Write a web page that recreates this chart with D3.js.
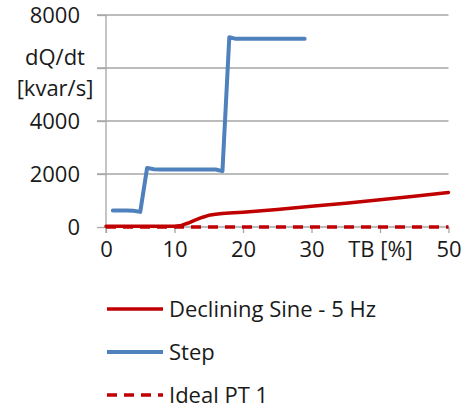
<!DOCTYPE html>
<html>
<head>
<meta charset="utf-8">
<script src="https://cdn.jsdelivr.net/npm/d3@7"></script>
<style>
    html, body { margin: 0; padding: 0; background: #fff; }
    svg text { font-family: "Open Sans", sans-serif; fill: #1a1a1a; }
</style>
</head>
<body>
<svg id="chart" width="473" height="412"></svg>
<script>
// x axis: TB [%]
const xTicks = [0, 10, 20, 30, 40, 50];
const xTickLabels = ['0', '10', '20', '30', 'TB [%]', '50'];
// y axis: dQ/dt [kvar/s]
const yTicks = [0, 2000, 4000, 6000, 8000];
const yTickLabels = ['0', '2000', '4000', '', '8000'];

const sineX = [0, 5, 10, 11, 12, 13, 14, 15, 16, 17, 18, 20, 25, 30, 35, 40, 45, 50];
const sineY = [30, 30, 30, 60, 150, 260, 360, 440, 480, 510, 530, 560, 660, 780, 900, 1030, 1160, 1300];

const stepX = [1, 2, 3, 4, 5, 6, 7, 8, 9, 10, 11, 12, 13, 14, 15, 16, 17, 18, 19, 20, 21, 22, 23, 24, 25, 26, 27, 28, 29];
const stepY = [620, 620, 620, 610, 570, 2230, 2180, 2170, 2170, 2170, 2170, 2170, 2170, 2170, 2170, 2170, 2110,
               7160, 7100, 7100, 7100, 7100, 7100, 7100, 7100, 7100, 7100, 7100, 7100];

const idealX = [0, 10, 20, 30, 40, 50];
const idealY = [0, 0, 0, 0, 0, 0];

const series = [
    { name: 'Declining Sine - 5 Hz', xs: sineX, ys: sineY, color: '#c00000', width: 3.5, dash: null },
    { name: 'Step', xs: stepX, ys: stepY, color: '#4f81bd', width: 4, dash: null },
    { name: 'Ideal PT 1', xs: idealX, ys: idealY, color: '#c00000', width: 3.5, dash: '10,7' }
];

const svg = d3.select('#chart');
const x = d3.scaleLinear().domain([0, 50]).range([106, 448.5]);
const y = d3.scaleLinear().domain([0, 8000]).range([227, 15]);

// Grid
svg.append('g')
    .selectAll('line')
    .data(yTicks.filter(d => d > 0))
    .enter().append('line')
    .attr('x1', 97).attr('x2', x(50))
    .attr('y1', d => y(d)).attr('y2', d => y(d))
    .attr('stroke', '#a6a6a6').attr('stroke-width', 1.3);

// Y axis
const yAxis = svg.append('g')
    .attr('transform', `translate(${x(0)},0)`)
    .call(d3.axisLeft(y).tickValues(yTicks).tickSize(9).tickPadding(17).tickFormat((d, i) => yTickLabels[i]));
yAxis.select('.domain').attr('stroke', '#a6a6a6').attr('stroke-width', 1.3).attr('d', `M0,${y(8000)}V${y(0) + 6}`);
yAxis.selectAll('.tick line').attr('stroke', '#a6a6a6').attr('stroke-width', 1.3);
yAxis.selectAll('.tick text').attr('font-size', '22px').attr('fill', '#1a1a1a').attr('font-family', '"Open Sans", sans-serif');

// X axis
const xAxis = svg.append('g')
    .attr('transform', `translate(0,${y(0)})`)
    .call(d3.axisBottom(x).tickValues(xTicks).tickSize(6).tickPadding(8).tickFormat((d, i) => xTickLabels[i]));
xAxis.select('.domain').attr('stroke', '#a6a6a6').attr('stroke-width', 1.3).attr('d', `M${x(0)},0H${x(50)}`);
xAxis.selectAll('.tick line').attr('stroke', '#a6a6a6').attr('stroke-width', 1.3);
xAxis.selectAll('.tick text').attr('font-size', '22px').attr('fill', '#1a1a1a').attr('font-family', '"Open Sans", sans-serif');

// Y axis title in place of the 6000 label
svg.append('text').attr('x', 55).attr('y', 65).attr('text-anchor', 'middle').attr('font-size', '22px').text('dQ/dt');
svg.append('text').attr('x', 55).attr('y', 96).attr('text-anchor', 'middle').attr('font-size', '22px').text('[kvar/s]');

// Lines
const line = d3.line().x(d => x(d[0])).y(d => y(d[1]));
series.forEach(s => {
    svg.append('path')
        .datum(s.xs.map((v, i) => [v, s.ys[i]]))
        .attr('fill', 'none')
        .attr('stroke', s.color)
        .attr('stroke-width', s.width)
        .attr('stroke-linejoin', 'round')
        .attr('stroke-linecap', s.dash ? 'butt' : 'round')
        .attr('stroke-dasharray', s.dash)
        .attr('d', line);
});

// Legend
const legend = svg.append('g');
series.forEach((s, i) => {
    const ly = 309 + i * 43;
    legend.append('line')
        .attr('x1', 107).attr('x2', 163).attr('y1', ly).attr('y2', ly)
        .attr('stroke', s.color).attr('stroke-width', s.width)
        .attr('stroke-dasharray', s.dash);
    legend.append('text')
        .attr('x', 169).attr('y', ly).attr('dy', '0.35em')
        .attr('font-size', '22px')
        .text(s.name);
});
</script>
</body>
</html>
